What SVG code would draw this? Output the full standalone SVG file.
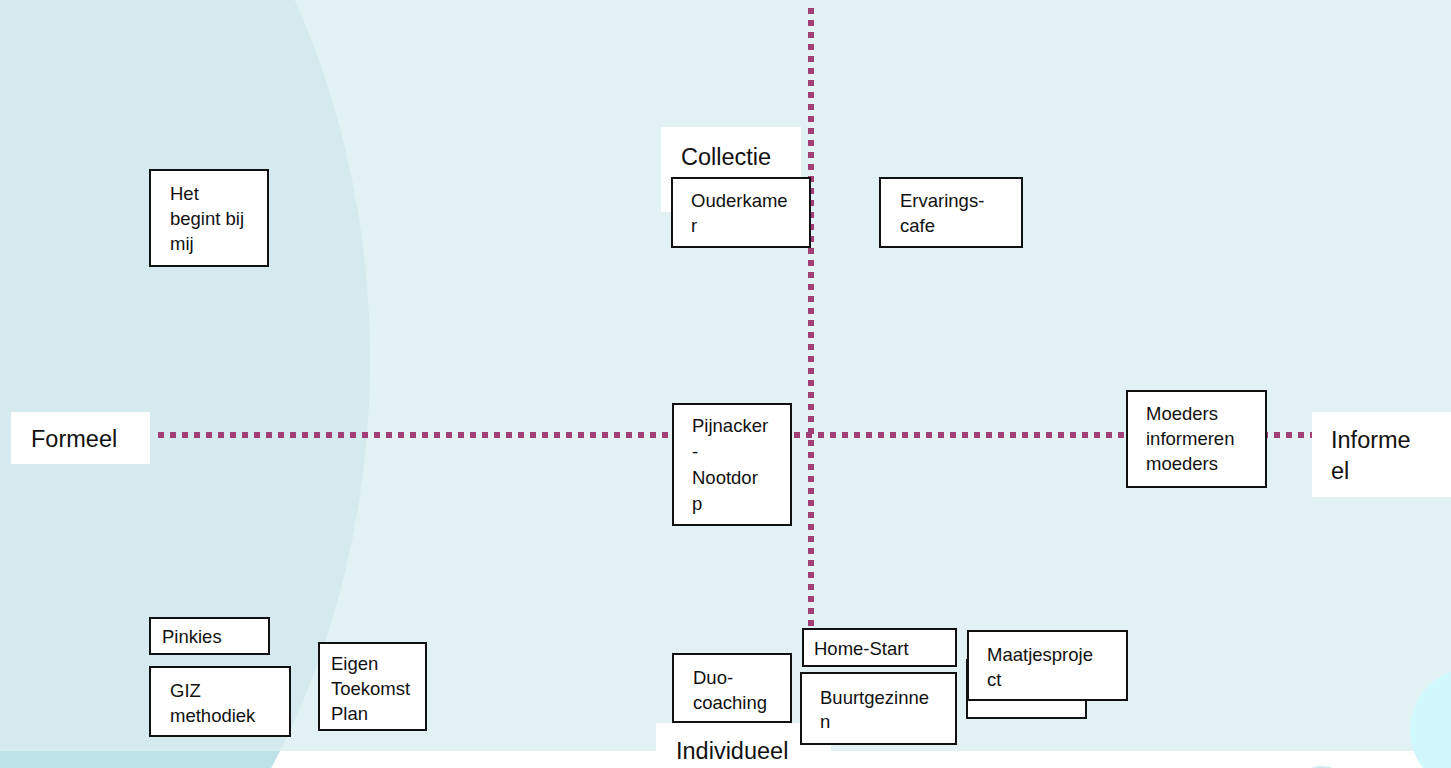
<svg xmlns="http://www.w3.org/2000/svg" width="1451" height="768" viewBox="0 0 1451 768">
<defs>
<style>
.box{fill:#fff;stroke:#111;stroke-width:2}
.lab{fill:#fff}
.t{font-family:"Liberation Sans",Arial,sans-serif;font-size:18.5px;fill:#111}
.tl{font-family:"Liberation Sans",Arial,sans-serif;font-size:23.5px;fill:#111}
.dot{stroke:#a23f76;stroke-width:6;stroke-dasharray:6 6;fill:none}
</style>
<clipPath id="strip"><rect x="0" y="751" width="1451" height="17"/></clipPath>
<clipPath id="top"><rect x="0" y="0" width="1451" height="751"/></clipPath>
</defs>
<rect x="0" y="0" width="1451" height="768" fill="#e2f1f3"/>
<ellipse cx="-200" cy="360" rx="570" ry="725" fill="#d5eaee" clip-path="url(#top)"/>
<rect x="0" y="751" width="1451" height="17" fill="#fff"/>
<ellipse cx="-200" cy="360" rx="570" ry="725" fill="#bde2e8" clip-path="url(#strip)"/>
<circle cx="1472" cy="730" r="62" fill="#cff7fc"/>
<ellipse cx="1322" cy="772" rx="14" ry="6" fill="#cfe9ee"/>

<g id="connectors">
<line class="dot" x1="811" y1="8" x2="811" y2="628"/>
<line class="dot" x1="158" y1="435" x2="1318" y2="435"/>
</g>

<g id="label-collectief">
<rect class="lab" x="661" y="127" width="140" height="85"/>
<text class="tl" x="681" y="165">Collectie</text>
<text class="tl" x="681" y="199">f</text>
</g>
<g id="label-formeel">
<rect class="lab" x="11" y="412" width="139" height="52"/>
<text class="tl" x="31" y="447">Formeel</text>
</g>
<g id="label-informeel">
<rect class="lab" x="1312" y="412" width="139" height="85"/>
<text class="tl" x="1331" y="448">Informe</text>
<text class="tl" x="1331" y="479">el</text>
</g>
<g id="label-individueel">
<rect class="lab" x="656" y="723" width="175" height="45"/>
<text class="tl" x="676" y="759">Individueel</text>
</g>

<g id="node-het-begint">
<rect class="box" x="150" y="170" width="118" height="96"/>
<text class="t" x="170" y="200">Het</text>
<text class="t" x="170" y="225">begint bij</text>
<text class="t" x="170" y="250">mij</text>
</g>
<g id="node-ouderkamer">
<rect class="box" x="672" y="178" width="138" height="69"/>
<text class="t" x="691" y="207">Ouderkame</text>
<text class="t" x="691" y="232">r</text>
</g>
<g id="node-ervaringscafe">
<rect class="box" x="880" y="178" width="142" height="69"/>
<text class="t" x="900" y="207">Ervarings-</text>
<text class="t" x="900" y="232">cafe</text>
</g>
<g id="node-pijnacker">
<rect class="box" x="673" y="404" width="118" height="121"/>
<text class="t" x="692" y="432">Pijnacker</text>
<text class="t" x="692" y="458">-</text>
<text class="t" x="692" y="484">Nootdor</text>
<text class="t" x="692" y="510">p</text>
</g>
<g id="node-moeders">
<rect class="box" x="1127" y="391" width="139" height="96"/>
<text class="t" x="1146" y="420">Moeders</text>
<text class="t" x="1146" y="445">informeren</text>
<text class="t" x="1146" y="470">moeders</text>
</g>
<g id="node-pinkies">
<rect class="box" x="150" y="618" width="119" height="36"/>
<text class="t" x="162" y="643">Pinkies</text>
</g>
<g id="node-giz">
<rect class="box" x="150" y="667" width="140" height="69"/>
<text class="t" x="170" y="697">GIZ</text>
<text class="t" x="170" y="722">methodiek</text>
</g>
<g id="node-eigen">
<rect class="box" x="319" y="643" width="107" height="87"/>
<text class="t" x="331" y="670">Eigen</text>
<text class="t" x="331" y="695">Toekomst</text>
<text class="t" x="331" y="720">Plan</text>
</g>
<g id="node-duo">
<rect class="box" x="673" y="654" width="118" height="68"/>
<text class="t" x="693" y="684">Duo-</text>
<text class="t" x="693" y="709">coaching</text>
</g>
<g id="node-homestart">
<rect class="box" x="803" y="629" width="153" height="37"/>
<text class="t" x="814" y="655">Home-Start</text>
</g>
<g id="node-buurtgezinnen">
<rect class="box" x="801" y="673" width="155" height="71"/>
<text class="t" x="820" y="704">Buurtgezinne</text>
<text class="t" x="820" y="728">n</text>
</g>
<g id="node-hidden">
<rect class="box" x="967" y="660" width="119" height="58"/>
</g>
<g id="node-maatjes">
<rect class="box" x="968" y="631" width="159" height="69"/>
<text class="t" x="987" y="661">Maatjesproje</text>
<text class="t" x="987" y="686">ct</text>
</g>
</svg>
